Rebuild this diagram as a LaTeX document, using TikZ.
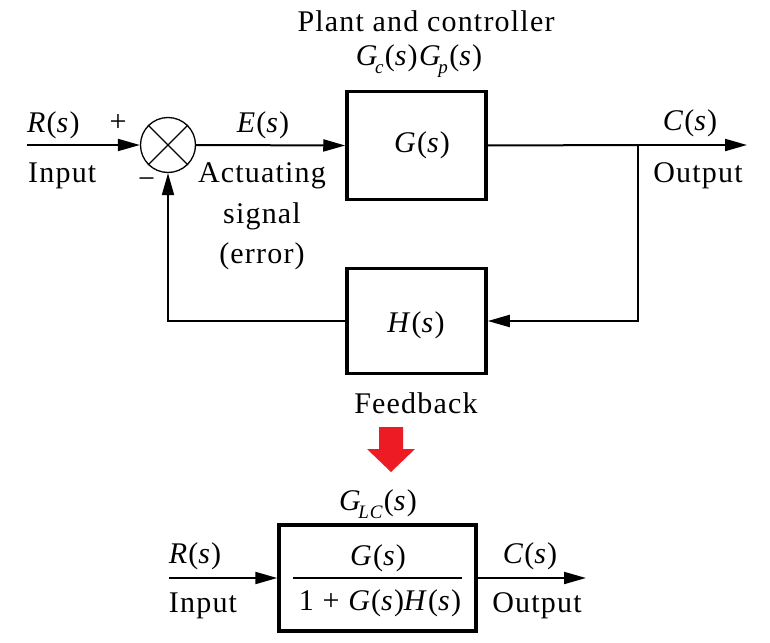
\documentclass[tikz,border=0pt]{standalone}
\usepackage{fontspec}
\setmainfont{Liberation Serif}[LetterSpace=4]
\usetikzlibrary{arrows.meta}
\definecolor{redarr}{RGB}{237,28,36}
\newcommand\ofs{(\textit{s})}
\newcommand\fsub[2]{\textit{#1}\kern-0.12em\raisebox{-0.28em}{\fontsize{19}{19}\selectfont\textit{#2}}\kern0.02em}
\begin{document}
\begin{tikzpicture}[x=1pt,y=-1pt,
  txt/.style={font=\fontsize{30}{40}\selectfont, inner sep=0pt, anchor=base},
  blk/.style={draw, line width=3.5pt, inner sep=0pt},
  wire/.style={line width=2pt},
  arr/.style={wire, -{Triangle[length=22pt,width=12pt]}},
  thin/.style={line width=1.2pt},
]
\useasboundingbox (0,0) rectangle (770,642);
\fill[white] (0,0) rectangle (770,642);

% blocks
\node[blk, minimum width=139pt, minimum height=108pt] (G) at (416.5,145.5) {};
\node[blk, minimum width=139pt, minimum height=105pt] (H) at (416.5,321) {};
\node[blk, minimum width=197pt, minimum height=106pt] (L) at (377.5,578) {};
\node[draw, circle, line width=1.3pt, minimum size=55pt, inner sep=0pt] (S) at (168,145) {};
\draw[thin] (S.north west) -- (S.south east);
\draw[thin] (S.north east) -- (S.south west);

% texts in blocks
\node[txt] (Gt) at (422,152) {\textit{G}\ofs};
\node[txt] (Ht) at (416,332) {\textit{H}\ofs};
\node[txt] (Num) at (378,565) {\textit{G}\ofs};
\node[txt] (Den) at (380,610) {1 + \textit{G}\ofs\textit{H}\ofs};
\draw[thin] (293,578) -- (462,578);

% wires
\coordinate (in1) at (27,145);
\coordinate (br) at (638,145);
\coordinate (out1) at (747,145);
\draw[arr] (in1) -- (S.west);
\draw[arr] (S.east) -- (G.west);
\draw[wire] (G.east) -- (br);
\draw[arr] (br) -- (out1);
\draw[arr] (br) |- (H.east);
\draw[arr] (H.west) -| (S.south);

\coordinate (in2) at (169,578);
\coordinate (out2) at (586,578);
\draw[arr] (in2) -- (L.west);
\draw[arr] (L.east) -- (out2);

% labels
\node[txt, anchor=base west] (R1) at (27,132) {\textit{R}\ofs};
\node[txt, anchor=center] (plus) at (118,123) {+};
\node[txt, anchor=base west] (In1) at (28,182) {Input};
\node[txt, anchor=center] (minus) at (146.5,183) {−};
\node[txt] (E1) at (263,132) {\textit{E}\ofs};
\node[txt] (A1) at (262,182) {Actuating};
\node[txt] (A2) at (262,223) {signal};
\node[txt] (A3) at (262,263) {(error)};
\node[txt] (PC) at (426,32) {Plant and controller};
\node[txt] (GcGp) at (419,65) {\fsub{G}{c}\ofs\kern0.05em\fsub{G}{p}\ofs};
\node[txt] (C1) at (690,130) {\textit{C}\ofs};
\node[txt] (Out1) at (698,182) {Output};
\node[txt] (FB) at (416,413) {Feedback};
\node[txt] (GLC) at (378,510) {\fsub{G}{LC}\ofs};
\node[txt] (R2) at (195,563) {\textit{R}\ofs};
\node[txt] (In2) at (203,612) {Input};
\node[txt] (C2) at (530,563) {\textit{C}\ofs};
\node[txt] (Out2) at (537,612) {Output};

% red arrow
\fill[redarr] (379,427) -- (403,427) -- (403,449) -- (415,449) -- (391,472) -- (367,449) -- (379,449) -- cycle;
\end{tikzpicture}
\end{document}
